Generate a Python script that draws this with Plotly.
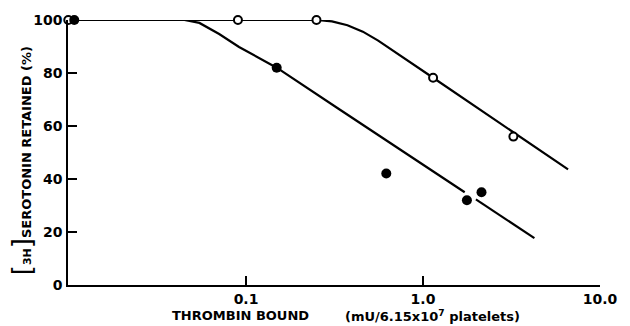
import plotly.graph_objects as go

# Measured data points
open_x = [0.0099, 0.090, 0.25, 1.14, 3.24]
open_y = [100, 100, 100, 78.2, 56.0]
filled_x = [0.0107, 0.149, 0.62, 1.77, 2.14]
filled_y = [100, 82.0, 42.1, 32.0, 35.0]

# Fitted curves
open_curve_x = [0.0099, 0.251, 0.306, 0.374, 0.457, 0.558, 1.14, 6.6]
open_curve_y = [100, 100, 99.5, 98.0, 95.6, 92.2, 78.2, 43.6]
filled_curve_x = [0.0099, 0.0449, 0.0545, 0.0705, 0.0913, 0.149, 0.333, 1.72, None, 1.99, 4.26]
filled_curve_y = [100, 100, 98.9, 94.7, 89.8, 82.0, 66.5, 35.0, None, 32.3, 17.7]

x_ticks = [0.1, 1.0, 10.0]
x_tick_labels = ["0.1", "1.0", "10.0"]
y_ticks = [0, 20, 40, 60, 80, 100]
y_tick_labels = ["0", "20", "40", "60", "80", "100"]

FONT = "DejaVu Sans"

fig = go.Figure()
fig.add_trace(go.Scatter(x=open_curve_x, y=open_curve_y, mode="lines",
                         line=dict(color="black", width=2.2), cliponaxis=False,
                         connectgaps=False, hoverinfo="skip"))
fig.add_trace(go.Scatter(x=filled_curve_x, y=filled_curve_y, mode="lines",
                         line=dict(color="black", width=2.2), cliponaxis=False,
                         connectgaps=False, hoverinfo="skip"))
fig.add_trace(go.Scatter(x=open_x, y=open_y, mode="markers", cliponaxis=False,
                         marker=dict(symbol="circle", size=8, color="white",
                                     line=dict(color="black", width=2))))
fig.add_trace(go.Scatter(x=filled_x, y=filled_y, mode="markers", cliponaxis=False,
                         marker=dict(symbol="circle", size=10, color="black",
                                     line=dict(color="black", width=0))))

fig.update_layout(
    width=630, height=326,
    margin=dict(l=68, r=27, t=19, b=41),
    paper_bgcolor="white", plot_bgcolor="white",
    showlegend=False,
    font=dict(family=FONT, color="black"),
)
fig.update_xaxes(
    type="log", range=[-2.006, 1.0],
    tickvals=x_ticks, ticktext=x_tick_labels,
    ticks="inside", ticklen=9, tickwidth=1.5, tickcolor="black",
    showline=True, linecolor="black", linewidth=1.5,
    showgrid=False, zeroline=False,
    tickfont=dict(family=FONT, size=14, weight="bold", color="black"),
    ticklabelstandoff=0,
)
fig.update_yaxes(
    range=[0, 100],
    tickvals=y_ticks, ticktext=y_tick_labels,
    ticks="inside", ticklen=9, tickwidth=1.5, tickcolor="black",
    showline=True, linecolor="black", linewidth=1.5,
    showgrid=False, zeroline=False,
    tickfont=dict(family=FONT, size=14, weight="bold", color="black"),
    ticklabelstandoff=1,
)

fig.add_annotation(
    text="<span style='font-size:26px;font-weight:normal'>[</span><span style='font-size:11px'>3H</span><span style='font-size:26px;font-weight:normal'>]</span>SEROTONIN RETAINED (%)",
    xref="paper", yref="paper", x=(22 - 68) / 535, y=(285 - 160.5) / 266,
    xanchor="center", yanchor="middle",
    textangle=-90, showarrow=False,
    font=dict(family=FONT, size=13, weight="bold", color="black"),
)
fig.add_annotation(
    text="THROMBIN BOUND", xref="paper", yref="paper",
    x=(241 - 68) / 535, y=(285 - 316) / 266, xanchor="center", yanchor="middle", showarrow=False,
    font=dict(family=FONT, size=13, weight="bold", color="black"),
)
fig.add_annotation(
    text="(mU/6.15x10<sup>7</sup> platelets)", xref="paper", yref="paper",
    x=(345 - 68) / 535, y=(285 - 316) / 266, xanchor="left", yanchor="middle", showarrow=False,
    font=dict(family=FONT, size=13, weight="bold", color="black"),
)

fig.write_html("out.html")
